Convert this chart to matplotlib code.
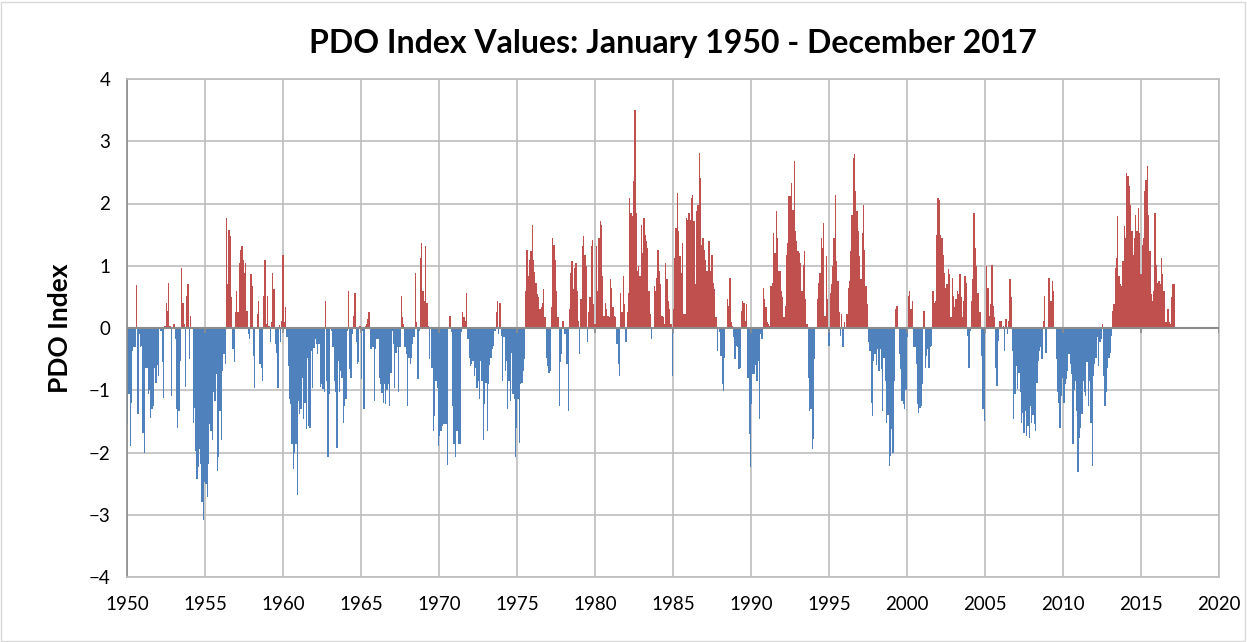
import numpy as np
import matplotlib
matplotlib.use('Agg')
import matplotlib.pyplot as plt
from matplotlib.patches import Rectangle

plt.rcParams['font.family'] = ['Lato', 'DejaVu Sans']

# monthly PDO index values, in order (Jan 1950 -> Dec 2017)
pdo_1950_56 = [-1.55, -1.06, -1.9, -1.2, -0.37, -0.3, -0.3, 0.69, -1.38, -0.1, -0.3,
               -0.29, -1.68, -2.0, -0.64, -0.64, -1.06, -1.0, -1.44, -1.3, -1.25, -0.64,
               -0.88, -0.6, -0.77, -0.02, -0.05, -0.55, -1.12, 0.03, 0.4, 0.27,
               0.73, 0.03, -1.09, -0.02, 0.06, -0.18, -1.3, -1.6, -1.33, -0.53,
               0.97, 0.4, 0.06, -0.95, 0.51, 0.7, -0.5, 0.19, -0.02, -1.52,
               -1.28, -1.97, -2.43, -2.24, -1.95, -2.18, -2.8, -3.08, -2.47, -2.5,
               -2.72, -2.19, -1.54, -1.65, -1.8, -1.03, -1.17, -0.74, -2.29, -2.08,
               -1.33, -1.8, -0.69, -0.42]
pdo_1956_62 = [-0.58, 1.77, 0.7, 1.58, 1.47, 0.49, -0.34, -0.55, 0.25, 0.59,
               0.25, 1.05, 1.26, 1.31, 1.1, 0.89, 1.05, 0.27, -0.1, -0.18, 0.86,
               0.67, -0.45, -0.96, -0.02, 0.22, 0.43, -0.58, -0.64, -0.85, 0.51,
               1.1, 0.06, 0.51, 0.03, -0.23, 0.09, 0.89, 0.62, -0.26, -0.4,
               -0.96, 0.05, -0.23, 0.11, 1.18, 0.09, 0.33, -0.15, -0.61, -1.14,
               -1.22, -1.86, -2.27, -2.0, -1.86, -2.69, -1.17, -1.38, -1.3, -0.8, -1.46, -1.2,
               -1.62, -0.48, -1.57, -1.6, -0.37, -0.96, -0.32, -0.18, -0.26, -0.42,
               -0.26]
pdo_1962_68 = [-0.95, -0.9, -0.98, -1.03, 0.43, -0.85, -2.07, -1.06, -0.02, -0.05, -0.31,
               -0.85, -1.03, -1.92, -0.53, -1.03, -0.69, -0.8, -1.52, -1.25, -1.14,
               -0.05, 0.59, -0.66, -0.8, -0.1, 0.19, 0.56, -0.23, -0.58, -0.55, 0.03,
               -0.82, -0.05, -1.3, 0.03, 0.06, 0.14, 0.25, -0.34, -0.34, -0.31,
               -1.17, -0.34, -0.18, -0.18, -0.8, -0.9, -1.05, -1.2, -0.9, -1.22, -1.0, -0.9,
               -1.25, -0.72, -0.05, -0.26, -0.96, -0.4, -0.31, -1.03, -0.31, 0.51,
               0.17, 0.06, -0.31, -0.42, -1.25, -0.48, -0.58, -0.48, -0.26, -0.15]
pdo_1968_74 = [0.89, 0.09, -0.82, -0.05, 1.13, 1.37, 0.59, 0.43, 1.31, 0.4,
               0.03, -0.5, -0.02, -0.64, -1.65, -1.41, -0.85, -0.96, -1.89, -1.73,
               -1.65, -1.57, -1.55, -1.55, -1.55, -2.2, -0.02, 0.19, -0.07, -1.25,
               -1.86, -2.07, -1.65, -1.65, -1.86, -1.86, -0.07, 0.25, 0.17, 0.11,
               0.56, -0.18, -0.48, -0.61, -0.58, -0.53, -0.77, -0.64, -0.96, -0.85, -1.14,
               -0.53, -0.85, -1.8, -1.22, -0.88, -1.65, -0.9, -0.6, -0.48, -0.34, -0.29,
               -0.05, 0.25, 0.43, -0.1, 0.4, -0.13, -0.85, -0.15]
pdo_1974_80 = [-0.69, -0.53, -1.3, -0.85, -1.17, -0.4, -1.06, -1.14, -2.07, -1.6,
               -1.14, -1.84, -0.9, -0.88, -0.69, -0.5, 0.59, 1.26, 0.83, 1.1,
               1.23, 1.66, 1.1, 0.9, 0.73, 0.54, 0.5, 0.3, 0.33, 0.4, 0.62, 0.17,
               -0.48, -0.61, -0.72, -0.69, 0.33, 1.45, 1.34, 1.1, 0.59, 0.17,
               -1.25, -0.55, -0.42, 0.11, -0.1, -0.1, -0.58, -1.33, 0.3, 0.89,
               1.07, 0.62, 0.97, 1.05, 0.59, 0.11, -0.42, 0.46, 1.31, 1.47,
               1.18, 0.99, -0.23, 0.25, 0.49, 1.31, 1.42, 0.38, 0.06, 1.31,
               0.59, 1.45]
pdo_1980_86 = [1.72, 1.66, 0.83, 0.19, 0.4, 0.3, 0.19, 0.17, 0.78, 0.65, 0.33,
               0.19, 0.17, -0.26, -0.58, -0.77, 0.56, 0.25, 0.83, 0.38, -0.23,
               0.25, 0.56, 2.09, 1.85, 1.8, 2.36, 3.51, 1.85, 0.91, 0.99,
               0.83, 1.66, 1.2, 1.77, 1.5, 1.4, 1.29, 0.59, 0.22, -0.18, -0.02,
               0.67, 0.59, 0.81, 1.26, 0.91, 0.7, 0.19, 0.17, 0.06, 1.05,
               0.78, 0.43, 0.3, 0.06, -0.77, 0.3, 1.13, 1.61, 2.17, 1.56,
               1.16, 0.89, 1.37, 0.22, 0.22, 1.77, 1.74, 1.85, 1.74, 2.09,
               2.14, 1.72]
pdo_1986_92 = [0.7, 1.88, 1.98, 2.81, 2.41, 1.34, 1.45, 1.26, 1.1, 0.91, 1.39,
               1.39, 0.91, 1.18, 0.73, 0.62, 0.17, -0.37, -0.02, -0.07, -0.45,
               -0.9, -1.01, -0.48, -0.02, 0.46, 0.35, 0.81, 0.09, 0.03, -0.15,
               -0.5, -0.29, -0.31, -0.66, -0.64, 0.27, 0.43, 0.4, 0.11, 0.38,
               -0.8, -1.7, -2.24, -1.22, -0.74, -0.74, -0.6, -0.85, -0.53, -1.46, -0.1,
               -0.18, 0.65, 0.46, 0.33, 0.09, 0.06, 0.03, 0.67, 0.73, 1.53,
               1.2, 1.88, 1.45, 0.91, 0.91, 0.59, 0.49, 0.17, 0.35, 1.18,
               1.37, 2.12]
pdo_1992_98 = [2.12, 2.33, 1.9, 2.68, 1.56, 1.39, 1.23, 1.2, 1.05, 0.59, 1.02,
               1.23, 0.46, 0.06, -0.8, -1.33, -1.3, -1.95, -1.78, -0.5, -0.02,
               0.46, 0.73, 0.89, 1.45, 1.29, 1.69, 0.19, 1.16, 0.46, -0.29,
               0.56, 0.7, 0.99, 1.45, 2.14, 1.07, 0.75, 0.25, -0.13, 0.23,
               -0.31, 0.09, -0.02, 0.22, 0.65, 0.75, 1.23, 1.82, 2.73, 2.79,
               2.2, 1.88, 1.56, 1.16, 0.78, 1.53, 1.98, 1.26, 0.67, 0.38,
               -0.23, -0.37, -1.2, -1.41, -0.53, -0.42, -0.6, -0.34, -0.69, -0.34, -0.66,
               -1.33, -0.48]
pdo_1998_04 = [-0.85, -1.52, -1.4, -2.21, -2.05, -1.62, -2.0, -0.85, 0.3, 0.35, -0.02,
               -0.42, -0.66, -1.17, -1.22, -1.3, -1.0, -0.15, 0.51, 0.59, 0.3, 0.43,
               -0.31, -0.31, -0.58, -1.22, -1.36, -1.28, -1.25, -0.9, 0.27, -0.64,
               -0.45, -0.34, -0.64, -0.31, -0.29, 0.59, 0.4, 0.43, 1.5, 2.09,
               2.06, 1.5, 1.45, 1.18, 0.89, 0.65, 0.7, 0.94, 0.86, 0.17, 0.81,
               0.51, 0.33, 0.46, 0.59, 0.54, 0.86, 0.49, 0.17, 0.43, 0.83,
               0.73, -0.13, -0.64, -0.05, 0.43, 0.78, 1.85, 1.29, 0.99, 0.56, 0.25]
pdo_2004_10 = [0.25, -0.45, -1.3, -1.49, 0.02, 0.99, 0.65, 0.19, 0.38, 1.02,
               0.35, 0.17, -0.64, -0.93, -0.21, 0.11, 0.11, -0.02, 0.03, -0.37,
               0.14, -0.1, 0.11, 0.78, 0.49, -0.37, -1.46, -1.06, -0.61, -0.98,
               -0.72, -1.03, -1.52, -1.36, -1.68, -1.33, -1.73, -1.57, -1.76, -1.25,
               -1.52, -1.4, -1.55, -1.65, -0.88, -0.53, -0.37, -0.3, -0.5, 0.11, 0.51, -0.4,
               -0.02, 0.81, 0.81, 0.43, 0.75, 0.59, -0.02, -0.5, -1.03, -1.2,
               -1.6, -1.09, -0.8, -1.2, -0.9, -0.82, -0.69, -0.42, -0.58, -0.74,
               -1.86, -1.0]
pdo_2010_16 = [-0.85, -1.33, -2.32, -1.76, -1.6, -1.38, -0.85, -1.03, -1.1, -0.55, -1.25,
               -0.85, -1.52, -2.21, -0.77, -0.58, -0.48, -0.15, -0.61, -0.23, -0.18,
               0.06, -0.77, -1.25, -1.03, -0.64, -0.48, -0.4, -0.13, 0.27, 0.38,
               0.97, 1.13, 1.8, 0.83, 0.7, 0.67, 1.07, 1.64, 1.45, 2.49,
               2.44, 2.28, 1.98, 1.56, 1.18, 1.45, 1.82, 1.56, 1.93, 1.53,
               0.86, 1.34, 1.45, 2.2, 2.38, 2.6, 1.82, 1.23, 0.54, 0.43,
               0.59, 1.85, 1.02, 0.73, 0.75, 0.7, 1.13, 0.86, 0.59, 0.09,
               0.09, 0.3, 0.09]
pdo_2017 = [0.06, 0.49, 0.7, 0.7]

x_ticks = list(range(1950, 2021, 5))
y_ticks = list(range(-4, 5))

pdo = np.array(pdo_1950_56 + pdo_1956_62 + pdo_1962_68 + pdo_1968_74 + pdo_1974_80
               + pdo_1980_86 + pdo_1986_92 + pdo_1992_98 + pdo_1998_04 + pdo_2004_10
               + pdo_2010_16 + pdo_2017)
n = len(pdo)
# the bars in the original run from 1950 to just past 2017 on the axis
step = 67.18 / n
xpos = 1950 + (np.arange(n) + 0.5) * step
colors = np.where(pdo >= 0, '#C0504D', '#4F81BD')

fig = plt.figure(figsize=(12.47, 6.42), dpi=100)
ax = fig.add_axes([127/1247, 1 - 577/642, (1219-127)/1247, (577-79)/642])

ax.bar(xpos, pdo, width=step, color=colors, linewidth=0, zorder=2)

ax.set_xlim(1950, 2020)
ax.set_ylim(-4, 4)
ax.set_xticks(x_ticks)
ax.set_yticks(y_ticks)
ax.grid(True, color='#BDBDBD', linewidth=1.2, zorder=0)
ax.set_axisbelow(True)
for s in ax.spines.values():
    s.set_color('#BDBDBD')
    s.set_linewidth(1.2)
ax.spines['left'].set_color('#8C8C8C')
ax.axhline(0, color='#8C8C8C', linewidth=1.5, zorder=3)
# small tick marks on the zero axis
ax.vlines(x_ticks, -0.08, 0, color='#8C8C8C', linewidth=1.2, zorder=3)
ax.tick_params(axis='both', length=0, labelsize=13.5, colors='black')
ax.tick_params(axis='x', pad=14)
ax.tick_params(axis='y', pad=12)

ax.set_ylabel('PDO Index', fontsize=19, fontweight='bold', labelpad=12)
ax.set_title('PDO Index Values: January 1950 - December 2017',
             fontsize=23, fontweight='bold', pad=19)

fig.patches.append(Rectangle((0.001, 0.002), 0.997, 0.995, transform=fig.transFigure,
                             fill=False, edgecolor='#D9D9D9', linewidth=1))

fig.savefig('out.png', dpi=100)
